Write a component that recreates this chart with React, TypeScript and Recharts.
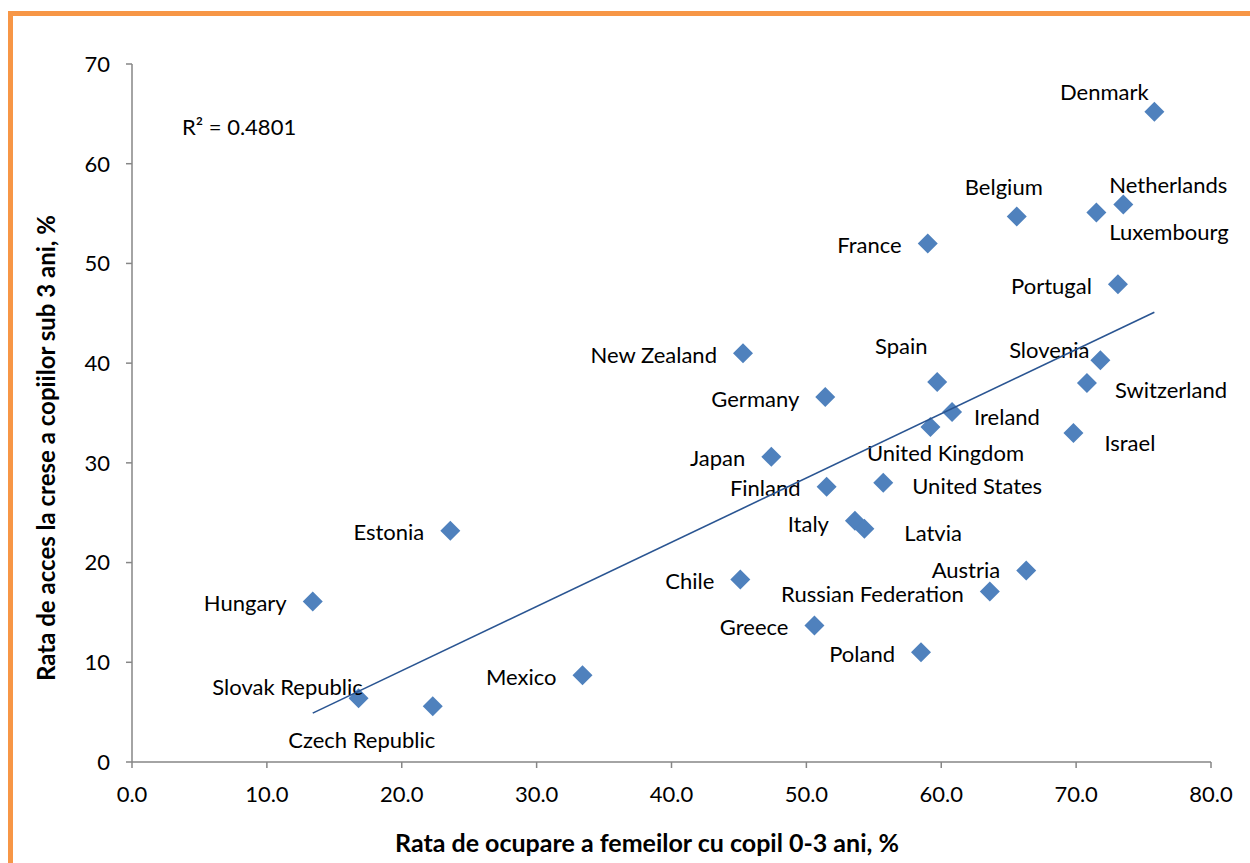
import React from 'react';
import { ScatterChart, Scatter, XAxis, YAxis, Label } from 'recharts';

const countries = [
  'Denmark', 'Netherlands', 'Luxembourg', 'Belgium', 'France', 'Portugal',
  'Slovenia', 'Switzerland', 'Israel', 'Spain', 'Ireland', 'United Kingdom',
  'New Zealand', 'Germany', 'Japan', 'Finland', 'United States', 'Italy',
  'Latvia', 'Estonia', 'Chile', 'Austria', 'Russian Federation', 'Greece',
  'Poland', 'Hungary', 'Mexico', 'Slovak Republic', 'Czech Republic',
];
const employmentRate = [
  75.8, 73.5, 71.5, 65.6, 59.0, 73.1,
  71.8, 70.8, 69.8, 59.7, 60.8, 59.2,
  45.3, 51.4, 47.4, 51.5, 55.7, 53.6,
  54.3, 23.6, 45.1, 66.3, 63.6, 50.6,
  58.5, 13.4, 33.4, 16.8, 22.3,
];
const childcareRate = [
  65.2, 55.9, 55.1, 54.7, 52.0, 47.9,
  40.3, 38.0, 33.0, 38.1, 35.1, 33.6,
  41.0, 36.6, 30.6, 27.6, 28.0, 24.2,
  23.4, 23.2, 18.3, 19.2, 17.1, 13.7,
  11.0, 16.1, 8.7, 6.4, 5.6,
];
const trendX = [13.4, 75.8];
const trendY = [4.9, 45.1];
const xTicks = [0, 10, 20, 30, 40, 50, 60, 70, 80];
const yTicks = [0, 10, 20, 30, 40, 50, 60, 70];
const rSquared = 'R² = 0.4801';
const xTitle = 'Rata de ocupare a femeilor cu copil 0-3 ani, %';
const yTitle = 'Rata de acces la crese a copiilor sub 3 ani, %';

const points = countries.map((name, i) => ({ name, x: employmentRate[i], y: childcareRate[i] }));
const trend = trendX.map((x, i) => ({ x, y: trendY[i] }));

// label placement: [anchor, dx, dy] relative to marker centre
type Anchor = 'start' | 'middle' | 'end';
const labelPlacement: Record<string, [Anchor, number, number]> = {
  Denmark: ['middle', -50, -20],
  Netherlands: ['start', -14, -20],
  Luxembourg: ['start', 13, 19],
  Belgium: ['middle', -13, -30],
  Slovenia: ['end', -11, -11],
  Switzerland: ['start', 28, 6],
  Israel: ['start', 31, 10],
  Spain: ['middle', -36, -37],
  Ireland: ['start', 22, 4],
  'United Kingdom': ['middle', 15, 26],
  'United States': ['start', 29, 3],
  Italy: ['end', -26, 3],
  Latvia: ['start', 40, 4],
  Austria: ['end', -26, -1],
  'Russian Federation': ['end', -26, 2],
  'Slovak Republic': ['middle', -71, -12],
  'Czech Republic': ['middle', -71, 33],
};

const FONT = 'Lato, "Open Sans", sans-serif';
const FS = 22;
const AXIS = '#868686';

const Diamond = (props: any) => {
  const { cx, cy, payload } = props;
  const r = 10;
  const [anchor, dx, dy] = labelPlacement[payload.name] ?? (['end', -26, 1] as [Anchor, number, number]);
  return (
    <g>
      <path d={`M${cx},${cy - r}L${cx + r},${cy}L${cx},${cy + r}L${cx - r},${cy}Z`} fill="#4F81BD" />
      <text
        x={cx + dx}
        y={cy + dy}
        textAnchor={anchor}
        dominantBaseline="central"
        fontFamily={FONT}
        fontSize={FS}
        fill="#000"
      >
        {payload.name}
      </text>
    </g>
  );
};

const NoShape = () => <g />;

export default function App() {
  return (
    <div style={{ position: 'fixed', left: 0, top: 0, width: 1250, height: 863, overflow: 'hidden', background: '#fff' }}>
      <div
        style={{
          position: 'absolute',
          left: 8,
          top: 11,
          width: 1242,
          height: 852,
          boxSizing: 'border-box',
          borderTop: '5px solid #F79646',
          borderLeft: '5px solid #F79646',
        }}
      />
      <div style={{ position: 'absolute', left: 0, top: 0 }}>
        <ScatterChart width={1250} height={863} margin={{ top: 64, right: 39, bottom: 0, left: 0 }} style={{ overflow: 'visible' }}>
          <XAxis
            type="number"
            dataKey="x"
            domain={[0, 80]}
            ticks={xTicks}
            tickFormatter={(v: number) => v.toFixed(1)}
            height={101}
            tickSize={6}
            tickMargin={18}
            stroke={AXIS}
            axisLine={{ stroke: AXIS, strokeWidth: 1.5 }}
            tickLine={{ stroke: AXIS, strokeWidth: 1.5 }}
            tick={{ fill: '#000', fontSize: FS, fontFamily: FONT }}
          >
            <Label
              content={() => (
                <text x={647} y={852} textAnchor="middle" fontFamily={FONT} fontSize={25} fontWeight="bold" fill="#000">
                  {xTitle}
                </text>
              )}
            />
          </XAxis>
          <YAxis
            type="number"
            dataKey="y"
            domain={[0, 70]}
            ticks={yTicks}
            width={132}
            tickSize={6}
            tickMargin={16}
            stroke={AXIS}
            axisLine={{ stroke: AXIS, strokeWidth: 1.5 }}
            tickLine={{ stroke: AXIS, strokeWidth: 1.5 }}
            tick={{ fill: '#000', fontSize: FS, fontFamily: FONT }}
          >
            <Label
              content={() => (
                <text
                  x={0}
                  y={0}
                  transform="translate(55,448) rotate(-90)"
                  textAnchor="middle"
                  fontFamily={FONT}
                  fontSize={24}
                  fontWeight="bold"
                  fill="#000"
                >
                  {yTitle}
                </text>
              )}
            />
          </YAxis>
          <Scatter data={points} shape={Diamond} isAnimationActive={false} />
          <Scatter
            data={trend}
            line={{ stroke: '#2A5592', strokeWidth: 1.6 }}
            shape={NoShape}
            isAnimationActive={false}
          />
        </ScatterChart>
      </div>
      <svg style={{ position: 'absolute', left: 0, top: 0 }} width={1250} height={863} pointerEvents="none">
        <text x={182} y={126} dominantBaseline="central" fontFamily={FONT} fontSize={FS} fill="#000">
          {rSquared}
        </text>
      </svg>
    </div>
  );
}
